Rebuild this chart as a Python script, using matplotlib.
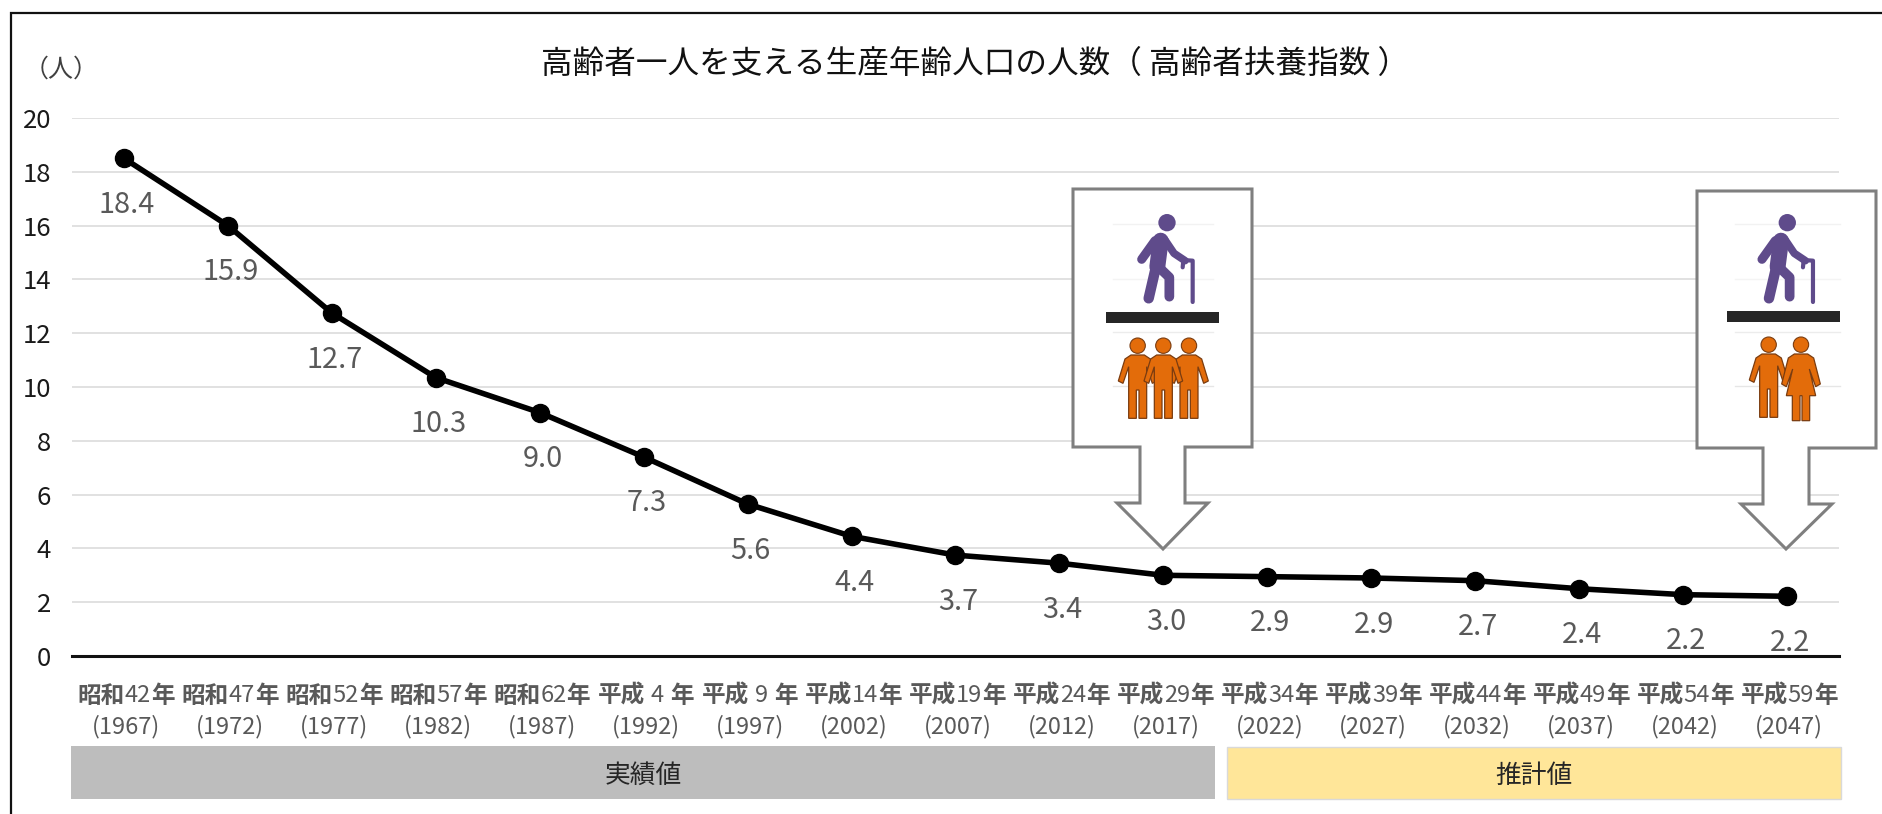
import matplotlib
matplotlib.use('Agg')
import matplotlib.pyplot as plt
from matplotlib.patches import Polygon, Circle, Rectangle

plt.rcParams['font.family'] = ['Noto Sans CJK JP', 'DejaVu Sans']

# 実績値 + 推計値
eras = ['昭和', '昭和', '昭和', '昭和', '昭和', '平成', '平成', '平成', '平成', '平成', '平成',
        '平成', '平成', '平成', '平成', '平成', '平成']
era_years = ['42', '47', '52', '57', '62', ' 4 ', ' 9 ', '14', '19', '24', '29',
             '34', '39', '44', '49', '54', '59']
years = [1967, 1972, 1977, 1982, 1987, 1992, 1997, 2002, 2007, 2012, 2017,
         2022, 2027, 2032, 2037, 2042, 2047]
values = [18.5, 16.0, 12.75, 10.35, 9.05, 7.4, 5.65, 4.45, 3.75, 3.45, 3.0,
          2.95, 2.9, 2.8, 2.5, 2.28, 2.22]
labels = ['18.4', '15.9', '12.7', '10.3', '9.0', '7.3', '5.6', '4.4', '3.7', '3.4', '3.0',
          '2.9', '2.9', '2.7', '2.4', '2.2', '2.2']
yticks = [0, 2, 4, 6, 8, 10, 12, 14, 16, 18, 20]

W, H = 1883, 814
fig = plt.figure(figsize=(W / 100, H / 100), dpi=100)

# 全体に重ねるピクセル座標の軸 (枠、吹き出し、アイコン用)
over = fig.add_axes([0, 0, 1, 1], zorder=3)
over.set_xlim(0, W)
over.set_ylim(H, 0)
over.axis('off')
over.patch.set_alpha(0)

ax = fig.add_axes([72 / W, 1 - 656 / H, (1839 - 72) / W, (656 - 118) / H], zorder=2)
x = list(range(len(values)))
ax.plot(x, values, color='black', lw=4, marker='o', ms=13, solid_capstyle='round')
ax.set_xlim(-0.5, len(values) - 0.5)
ax.set_ylim(0, 20)
ax.set_yticks(yticks)
ax.tick_params(axis='y', length=0, labelsize=18.5, pad=15, labelcolor='#1a1a1a')
ax.set_xticks([])
ax.grid(axis='y', color='#d9d9d9', lw=1.1)
ax.set_axisbelow(True)
for s in ['top', 'right', 'left']:
    ax.spines[s].set_visible(False)
ax.spines['bottom'].set_linewidth(2.2)
ax.spines['bottom'].set_color('#111111')

for i, (v, t) in enumerate(zip(values, labels)):
    ax.annotate(t, (i, v), xytext=(2, -33.5), textcoords='offset points', ha='center', va='center',
                fontsize=20.8, color='#595959')

# 枠
over.plot([11, 11, W], [H, 13, 13], color='#111111', lw=1.6, solid_joinstyle='miter')

over.text(975, 64, '高齢者一人を支える生産年齢人口の人数（ 高齢者扶養指数 ）', ha='center', va='center',
          fontsize=22.75, color='#111111')
over.text(61, 70, '（人）', ha='center', va='center', fontsize=18, color='#404040')

# 年の軸ラベル: 元号と年は太字、数字は細字
fig.canvas.draw()
rend = fig.canvas.get_renderer()
for i in range(len(values)):
    cx = 74 + (i + 0.5) * (1839 - 72) / len(values)
    parts = [(eras[i], 'bold'), (era_years[i].strip(), 'normal'), ('年', 'bold')]
    pad = 6 if era_years[i].startswith(' ') else 0
    texts = [over.text(0, 696, p, fontsize=17, color='#595959', fontweight=w, va='center', ha='left')
             for p, w in parts]
    widths = [t.get_window_extent(rend).width for t in texts]
    left = cx - (sum(widths) + 2 * pad) / 2
    for j, t in enumerate(texts):
        t.set_x(left)
        left += widths[j] + pad
    over.text(cx, 727, '(%d)' % years[i], ha='center', va='center', fontsize=17, color='#595959')

# 実績値 / 推計値の帯
over.add_patch(Rectangle((71, 746), 1215 - 71, 53, fc='#bdbdbd', ec='none'))
over.add_patch(Rectangle((1227, 747), 1841 - 1227, 52, fc='#ffe699', ec='#d9d9d9', lw=1))
over.text(643, 776, '実績値', ha='center', va='center', fontsize=18.5, color='#262626')
over.text(1534, 776, '推計値', ha='center', va='center', fontsize=18.5, color='#262626')


def callout(l, r, t, b, s1, s2, hy, h1, h2, tipx, tipy):
    pts = [(l, t), (r, t), (r, b), (s2, b), (s2, hy), (h2, hy), (tipx, tipy), (h1, hy), (s1, hy), (s1, b), (l, b)]
    over.add_patch(Polygon(pts, closed=True, fc='white', ec='#7f7f7f', lw=2.2, joinstyle='miter', zorder=3))


def elder(x0, y0):
    # ズーム画像の座標を3で割って配置
    c = '#5f4b8b'
    z = 4

    def stroke(pts, lw):
        xs = [x0 + a / 3 for a, b in pts]
        ys = [y0 + b / 3 for a, b in pts]
        over.plot(xs, ys, color=c, lw=lw, solid_capstyle='round', solid_joinstyle='round', zorder=z)

    over.add_patch(Circle((x0 + 351 / 3, y0 + 158 / 3), 26 / 3, fc=c, ec='none', zorder=z))
    stroke([(332, 212), (322, 290)], 11.5)     # 胴
    stroke([(315, 212), (275, 268)], 6.5)      # 後ろの腕
    stroke([(345, 210), (372, 250), (405, 272)], 5.5)  # 前の腕
    stroke([(318, 290), (296, 385)], 7.5)      # 後ろの脚
    stroke([(330, 295), (358, 322), (358, 380)], 7)  # 前の脚
    stroke([(398, 292), (400, 270), (428, 272), (428, 396)], 3)  # 杖


def man(x0, y0, cx, top=505):
    c = '#e36c0a'
    e = '#7a3c10'

    def p(pts):
        return [(x0 + (cx + a) / 3, y0 + (top + b) / 3) for a, b in pts]
    z = 4
    over.add_patch(Circle((x0 + cx / 3, y0 + (top + 22) / 3), 23 / 3, fc=c, ec=e, lw=0.8, zorder=z))
    shape = [(-20, 50), (20, 50), (38, 62), (58, 128), (44, 135), (27, 85), (27, 240), (4, 240), (4, 155),
             (-4, 155), (-4, 240), (-27, 240), (-27, 85), (-44, 135), (-58, 128), (-38, 62)]
    over.add_patch(Polygon(p(shape), closed=True, fc=c, ec=e, lw=0.9, zorder=z))


def woman(x0, y0, cx, top=505):
    c = '#e36c0a'
    e = '#7a3c10'

    def p(pts):
        return [(x0 + (cx + a) / 3, y0 + (top + b) / 3) for a, b in pts]
    z = 4
    over.add_patch(Circle((x0 + cx / 3, y0 + (top + 22) / 3), 23 / 3, fc=c, ec=e, lw=0.8, zorder=z))
    shape = [(-20, 50), (20, 50), (38, 62), (58, 140), (44, 148), (25, 95), (44, 175), (26, 175), (26, 250),
             (3, 250), (3, 175), (-3, 175), (-3, 250), (-26, 250), (-26, 175), (-44, 175), (-25, 95), (-44, 148),
             (-58, 140), (-38, 62)]
    over.add_patch(Polygon(p(shape), closed=True, fc=c, ec=e, lw=0.9, zorder=z))


callout(1073, 1252, 189, 447, 1140, 1185, 503, 1117, 1208, 1163, 549)
callout(1697, 1876, 191, 448, 1763, 1809, 504, 1741, 1832, 1786, 549)

# アイコン越しにうっすら見える目盛線
for gy, c1 in [(224, '#f2f2f2'), (279, '#f4f4f4'), (332, '#ececec'), (386, '#e6e6e6')]:
    over.plot([1113, 1213], [gy, gy], color=c1, lw=1, zorder=3.5)
    over.plot([1735, 1840], [gy, gy], color=c1, lw=1, zorder=3.5)

elder(1050, 170)
over.add_patch(Rectangle((1106, 312), 113, 11, fc='#262626', ec='none', zorder=4))
for cx in [417, 263, 340]:
    man(1050, 170, cx)

elder(1670.3, 170)
over.add_patch(Rectangle((1727, 311), 113, 11, fc='#262626', ec='none', zorder=4))
man(1680, 170, 266, top=502)
woman(1680, 170, 363, top=502)

fig.savefig('out.png', dpi=100)
